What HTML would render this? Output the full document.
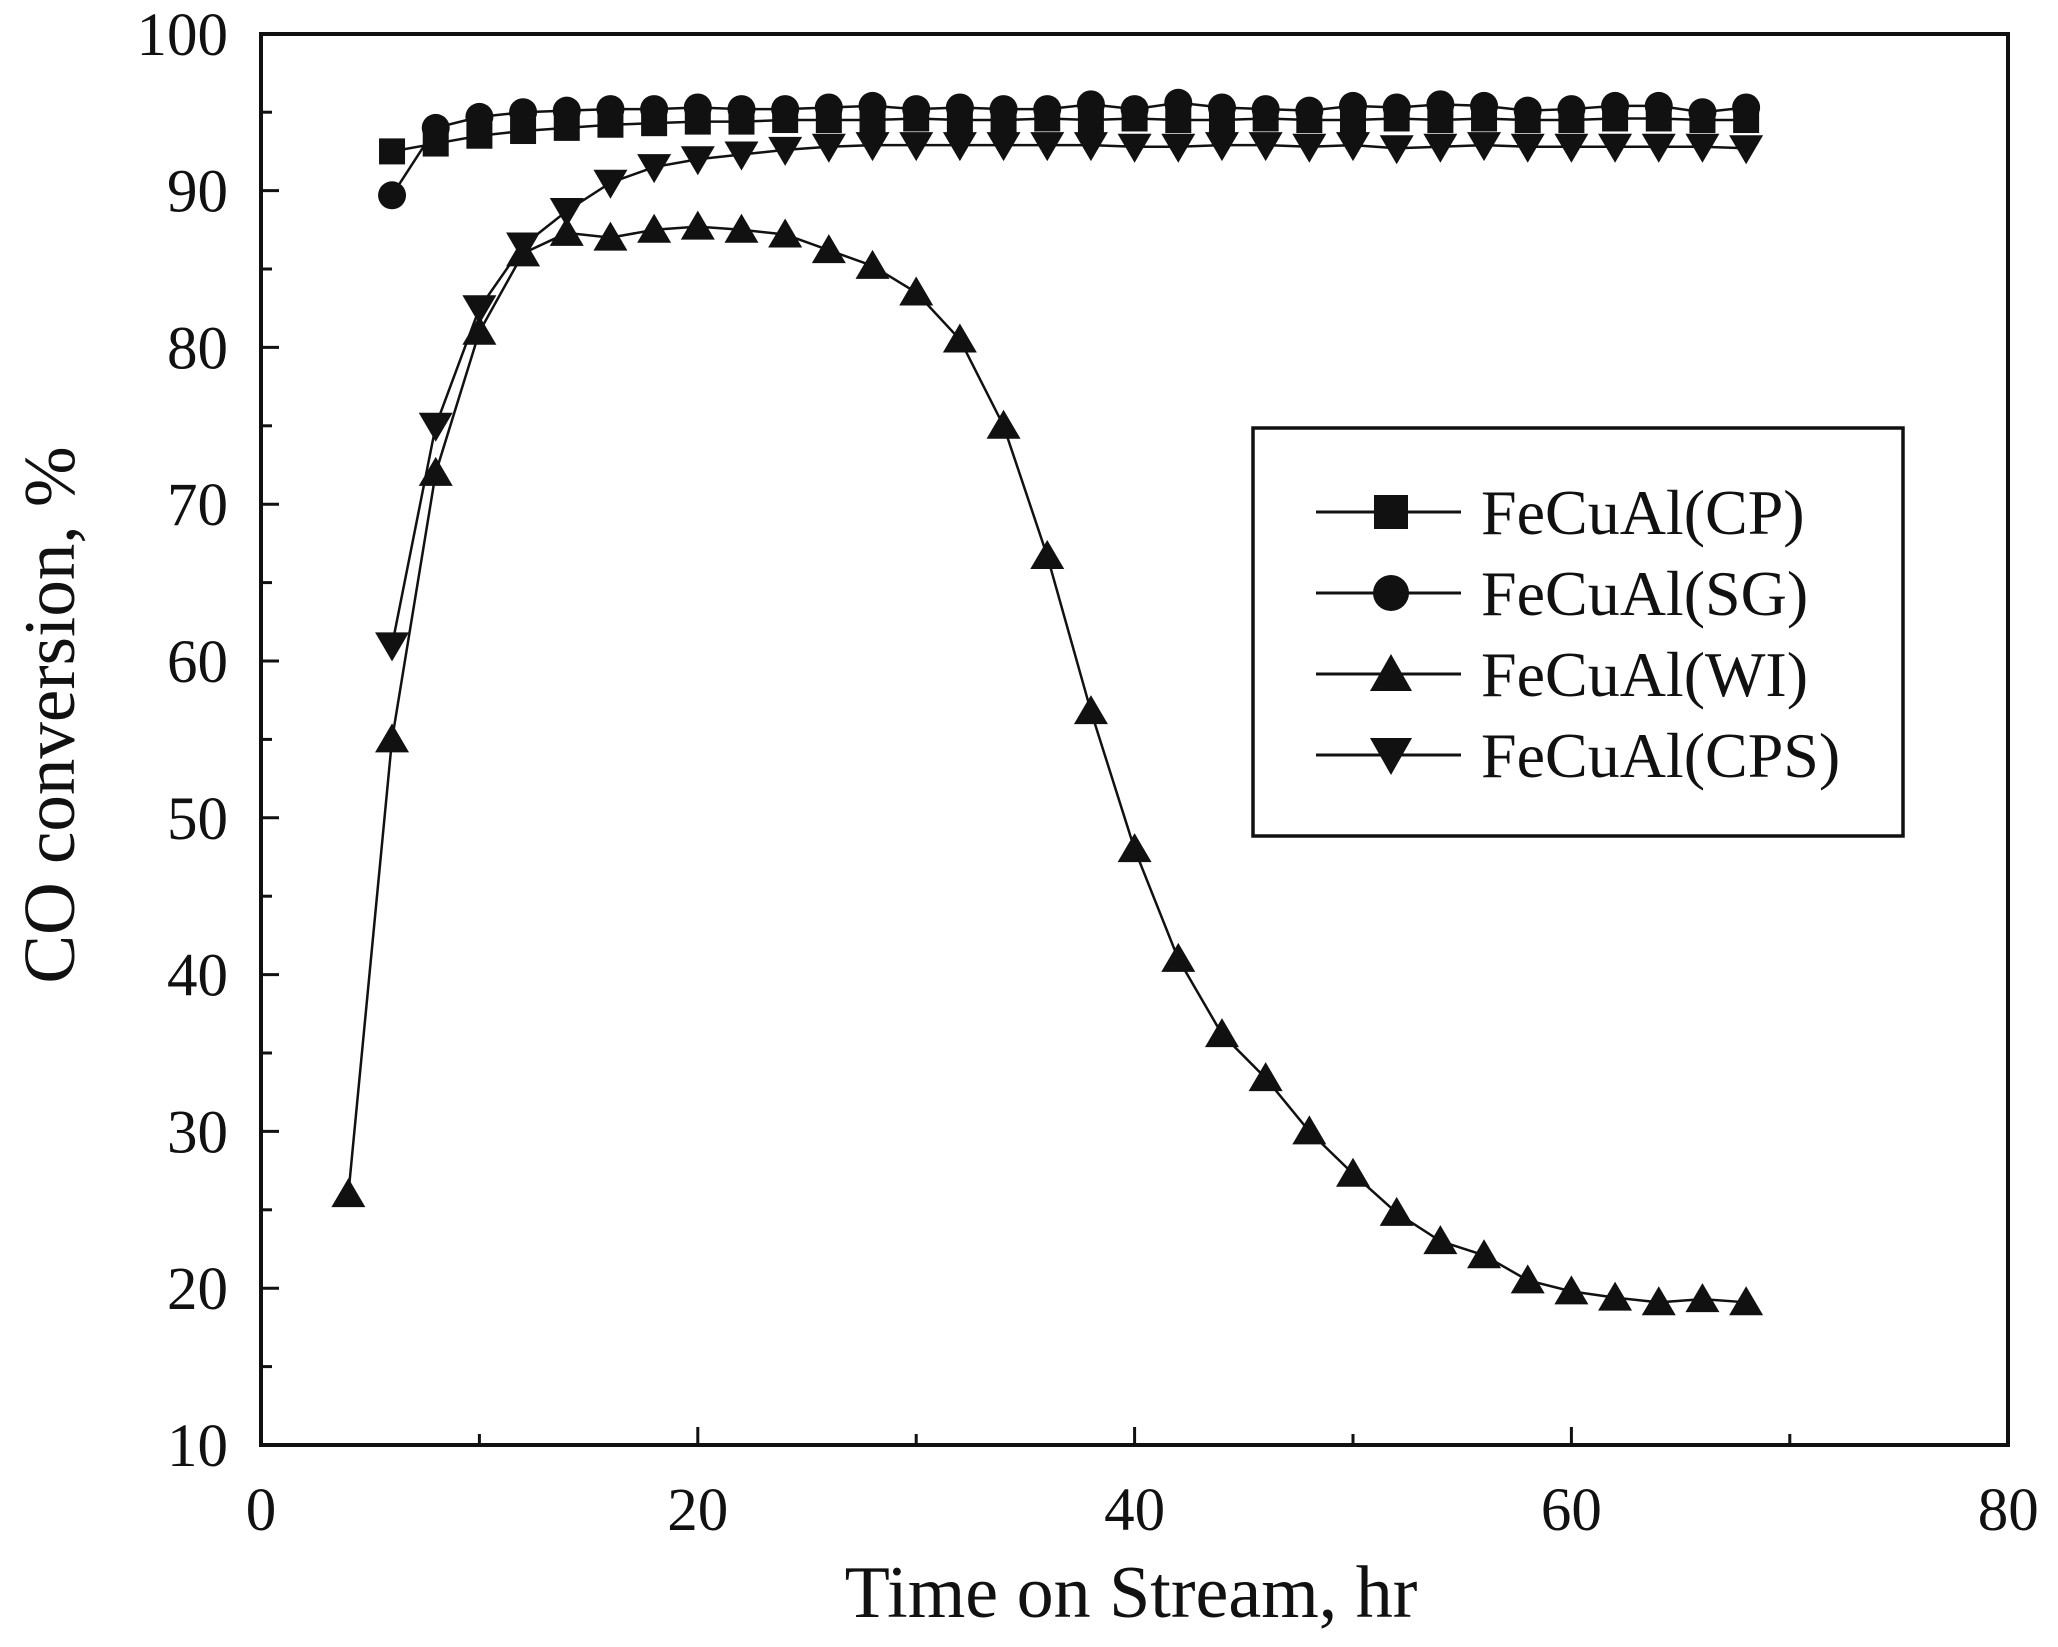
<!DOCTYPE html>
<html><head><meta charset="utf-8"><style>
html,body{margin:0;padding:0;background:#fff;}
svg{display:block;}
text{font-family:"Liberation Serif",serif;fill:#111;}
</style></head><body>
<svg id="s" width="2058" height="1647" viewBox="0 0 2058 1647" xmlns="http://www.w3.org/2000/svg"></svg>
<script>
const s=document.getElementById('s');
const X=v=>261+v*21.84, Y=v=>1445-(v-10)*15.68;
let h='';
h+=`<rect x="261" y="34" width="1747" height="1411" fill="none" stroke="#111" stroke-width="4"/>`;
for(let v=10;v<=100;v+=5){const y=Y(v);const L=v%10==0?18:11;
 h+=`<line x1="261" y1="${y}" x2="${261+L}" y2="${y}" stroke="#111" stroke-width="3"/>`;
 if(v%10==0) h+=`<text x="228" y="${y+21}" font-size="61" text-anchor="end">${v}</text>`;}
for(let v=0;v<=80;v+=10){const x=X(v);const L=v%20==0?18:11;
 h+=`<line x1="${x}" y1="1445" x2="${x}" y2="${1445-L}" stroke="#111" stroke-width="3"/>`;
 if(v%20==0) h+=`<text x="${x}" y="1530" font-size="61" text-anchor="middle">${v}</text>`;}
h+=`<text x="1131" y="1617" font-size="74" text-anchor="middle">Time on Stream, hr</text>`;
h+=`<text transform="translate(74,715) rotate(-90)" font-size="73" text-anchor="middle">CO conversion, %</text>`;
const xs=[];for(let t=6;t<=68;t+=2)xs.push(t);
const cp=[92.5,93,93.5,93.8,94,94.2,94.3,94.4,94.4,94.5,94.5,94.5,94.6,94.5,94.5,94.6,94.5,94.6,94.5,94.5,94.6,94.5,94.5,94.6,94.5,94.6,94.5,94.5,94.6,94.6,94.5,94.5];
const sg=[89.7,94,94.7,95,95.1,95.2,95.2,95.3,95.2,95.2,95.3,95.4,95.2,95.3,95.2,95.2,95.5,95.2,95.6,95.3,95.2,95.1,95.4,95.3,95.5,95.4,95.1,95.2,95.4,95.4,95,95.3];
const cps=[61,75,82.5,86.5,88.7,90.5,91.5,92,92.3,92.6,92.8,92.9,92.9,92.9,92.9,92.9,92.9,92.8,92.8,92.9,92.9,92.8,92.9,92.7,92.8,92.9,92.8,92.8,92.8,92.8,92.8,92.7];
const wiX=[4].concat(xs);
const wi=[26,55,72,81,86,87.3,87,87.5,87.7,87.5,87.2,86.2,85.2,83.5,80.5,75,66.7,56.8,48,41,36.2,33.4,30,27.3,24.8,23,22.1,20.5,19.8,19.4,19.1,19.3,19.1];
function line(xa,ya){return `<polyline fill="none" stroke="#111" stroke-width="2.5" points="${xa.map((x,i)=>X(x)+','+Y(ya[i])).join(' ')}"/>`;}
function mk(type,cx,cy,r){r=r||13;
 if(type=='sq')return `<rect x="${cx-r}" y="${cy-r}" width="${2*r}" height="${2*r}" fill="#111"/>`;
 if(type=='ci')return `<circle cx="${cx}" cy="${cy}" r="${r+1}" fill="#111"/>`;
 if(type=='up')return `<polygon points="${cx},${cy-r-3} ${cx+r+4},${cy+r} ${cx-r-4},${cy+r}" fill="#111"/>`;
 return `<polygon points="${cx},${cy+r+3} ${cx+r+4},${cy-r} ${cx-r-4},${cy-r}" fill="#111"/>`;}
h+=line(xs,cp)+line(xs,sg)+line(xs,cps)+line(wiX,wi);
xs.forEach((x,i)=>{h+=mk('sq',X(x),Y(cp[i]));h+=mk('ci',X(x),Y(sg[i]));h+=mk('dn',X(x),Y(cps[i]));});
wiX.forEach((x,i)=>h+=mk('up',X(x),Y(wi[i])));
h+=`<rect x="1253" y="428" width="650" height="408" fill="#fff" stroke="#111" stroke-width="3.5"/>`;
const leg=[['sq','FeCuAl(CP)'],['ci','FeCuAl(SG)'],['up','FeCuAl(WI)'],['dn','FeCuAl(CPS)']];
leg.forEach((l,i)=>{const y=512+i*81;
 h+=`<line x1="1316" y1="${y}" x2="1461" y2="${y}" stroke="#111" stroke-width="3"/>`;
 h+=mk(l[0],1391,y,17);
 h+=`<text x="1481" y="${y+22}" font-size="64">${l[1]}</text>`;});
s.innerHTML=h;
</script>
</body></html>
